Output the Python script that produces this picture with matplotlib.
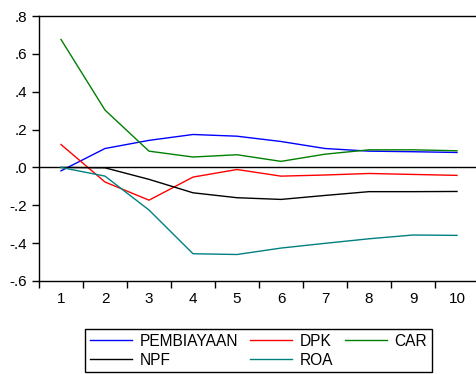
import matplotlib
matplotlib.use('Agg')
import matplotlib.pyplot as plt
from matplotlib.ticker import FixedLocator

plt.rcParams['font.family'] = ['Liberation Sans', 'DejaVu Sans']

# impulse response values, periods 1..10
periods = [1, 2, 3, 4, 5, 6, 7, 8, 9, 10]
pembiayaan = [-0.018, 0.100, 0.143, 0.174, 0.165, 0.137, 0.100, 0.086, 0.083, 0.079]
dpk = [0.121, -0.077, -0.173, -0.051, -0.011, -0.046, -0.040, -0.032, -0.037, -0.042]
car = [0.676, 0.303, 0.086, 0.055, 0.067, 0.032, 0.070, 0.093, 0.093, 0.088]
npf = [0.000, -0.002, -0.063, -0.134, -0.160, -0.169, -0.148, -0.128, -0.128, -0.127]
roa = [0.000, -0.046, -0.225, -0.456, -0.460, -0.426, -0.401, -0.377, -0.357, -0.359]

y_ticks = [-0.6, -0.4, -0.2, 0.0, 0.2, 0.4, 0.6, 0.8]
y_labels = ['-.6', '-.4', '-.2', '.0', '.2', '.4', '.6', '.8']

fig = plt.figure(figsize=(4.76, 3.74), dpi=100)
ax = fig.add_axes([39/476, 1 - 281/374, 440/476, 265/374])

ax.axhline(0, color='black', lw=1.0)
l1, = ax.plot(periods, pembiayaan, color='#0000ff', lw=1.0, label='PEMBIAYAAN')
l2, = ax.plot(periods, dpk, color='#ff0000', lw=1.0, label='DPK')
l3, = ax.plot(periods, car, color='#008000', lw=1.0, label='CAR')
l4, = ax.plot(periods, npf, color='black', lw=1.0, label='NPF')
l5, = ax.plot(periods, roa, color='#008080', lw=1.0, label='ROA')

ax.set_xlim(0.5, 10.5)
ax.set_ylim(-0.6, 0.8)

# ticks between categories, labels centred on them
ax.xaxis.set_major_locator(FixedLocator([p - 0.5 for p in periods] + [10.5]))
ax.xaxis.set_minor_locator(FixedLocator(periods))
ax.set_xticklabels([])
ax.set_xticklabels([str(p) for p in periods], minor=True)
ax.tick_params(axis='x', which='major', length=5, width=1, direction='out')
ax.tick_params(axis='x', which='minor', length=0, pad=8, labelsize=11)
ax.set_yticks(y_ticks)
ax.set_yticklabels(y_labels)
ax.tick_params(axis='y', length=5, width=1, direction='out', labelsize=11)

for s in ax.spines.values():
    s.set_linewidth(1.0)

leg = fig.legend([l1, l4, l2, l5, l3], ['PEMBIAYAAN', 'NPF', 'DPK', 'ROA', 'CAR'],
                 ncol=3, loc='upper left', bbox_to_anchor=(85/476, 1 - 329/374),
                 borderaxespad=0, fontsize=11.2, handlelength=2.7, handletextpad=0.5,
                 columnspacing=0.75, labelspacing=0.25, borderpad=0.3,
                 fancybox=False, edgecolor='black', framealpha=1)
leg.get_frame().set_linewidth(1.0)

fig.savefig('out.png', dpi=100)
